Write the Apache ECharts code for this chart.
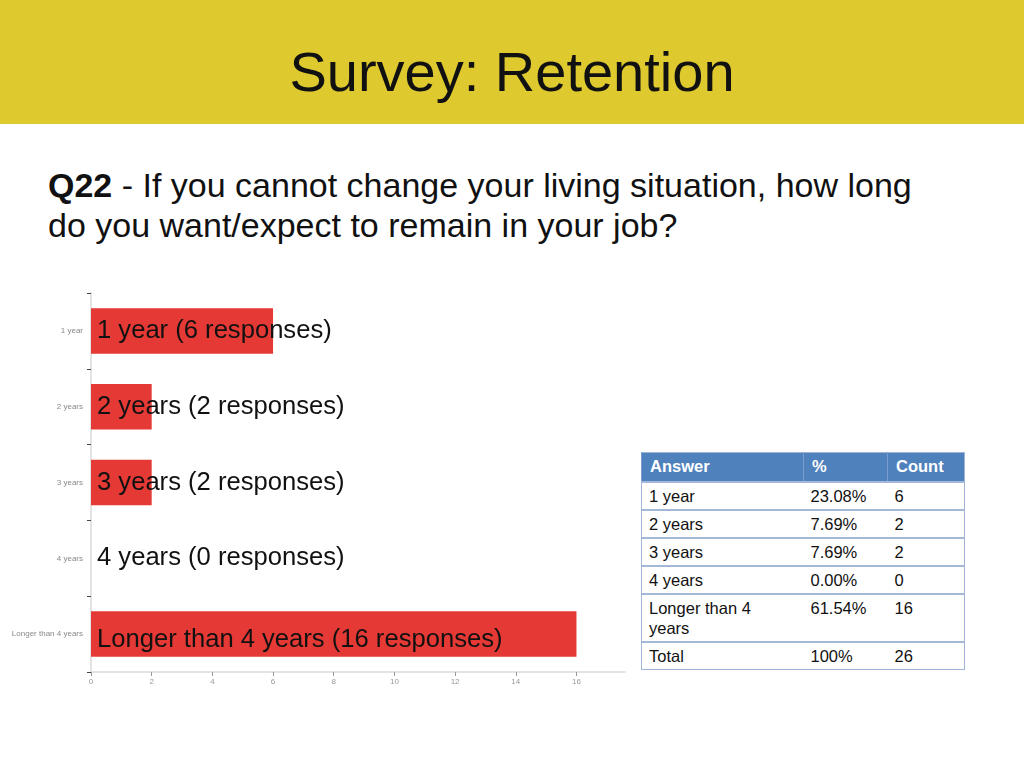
<!DOCTYPE html>
<html>
<head>
<meta charset="utf-8">
<script src="https://cdn.jsdelivr.net/npm/echarts@6/dist/echarts.min.js"></script>
<style>
  body { margin: 0; width: 1024px; height: 768px; background: #fff; font-family: "Liberation Sans", Arial, sans-serif; position: relative; overflow: hidden; }
  .header { position: absolute; left: 0; top: 0; width: 1024px; height: 124px; background: #dec92e; }
  .header h1 { margin: 0; font-weight: normal; font-size: 56px; line-height: 124px; text-align: center; color: #111; position: relative; top: 10px; }
  .question { position: absolute; left: 48px; top: 165px; width: 880px; font-size: 34px; line-height: 40px; color: #111; }
  #productsChart { position: absolute; left: 0; top: 270px; width: 640px; height: 440px; }
  table.answers { position: absolute; left: 641px; top: 452px; border-collapse: collapse; font-size: 16.5px; color: #111; border: 1px solid #9fb4d8; }
  table.answers th { background: #4f81bd; color: #fff; text-align: left; font-weight: bold; height: 29px; padding: 0 8px; border-left: 1px solid #7d9ecd; box-sizing: border-box; }
  table.answers td { text-align: left; vertical-align: top; padding: 3px 7px 3px 7px; line-height: 20px; border-top: 2px solid #a3b7d9; }
</style>
</head>
<body>
<div class="header"><h1>Survey: Retention</h1></div>
<div class="question"><b>Q22</b> - If you cannot change your living situation, how long do you want/expect to remain in your job?</div>
<div id="productsChart"></div>
<table class="answers" id="answerTable"></table>
<script>
// chart data
let categories = ['1 year', '2 years', '3 years', '4 years', 'Longer than 4 years'];
let counts = [6, 2, 2, 0, 16];
let xTicks = [0, 2, 4, 6, 8, 10, 12, 14, 16];

// table data
let tableHeader = ['Answer', '%', 'Count'];
let tableAnswers = ['1 year', '2 years', '3 years', '4 years', 'Longer than 4 years', 'Total'];
let tablePercents = ['23.08%', '7.69%', '7.69%', '0.00%', '61.54%', '100%'];
let tableCounts = ['6', '2', '2', '0', '16', '26'];

// build the table
let table = document.getElementById('answerTable');
let head = '<tr>' + tableHeader.map((h, i) => '<th style="width:' + [162, 84, 77][i] + 'px">' + h + '</th>').join('') + '</tr>';
let rows = '';
tableAnswers.forEach((a, i) => {
    let label = a === 'Longer than 4 years' ? 'Longer than 4<br>years' : a;
    rows += '<tr><td>' + label + '</td><td>' + tablePercents[i] + '</td><td>' + tableCounts[i] + '</td></tr>';
});
table.innerHTML = head + rows;

let myChart = echarts.init(document.getElementById('productsChart'));

myChart.setOption({
    animation: false,
    grid: { left: 91, top: 23, width: 534, height: 379 },
    xAxis: {
        type: 'value',
        min: 0,
        max: 17.6,
        interval: 2,
        splitLine: { show: false },
        axisLine: { show: true, lineStyle: { color: '#e3e3e3', width: 2 } },
        axisTick: { show: true, length: 4, lineStyle: { color: '#999' } },
        axisLabel: {
            color: '#999', fontSize: 8, margin: 6,
            showMaxLabel: false,
            fontFamily: 'Liberation Sans'
        }
    },
    yAxis: {
        type: 'category',
        inverse: true,
        data: categories,
        axisLine: { show: true, lineStyle: { color: '#e3e3e3', width: 2 } },
        axisTick: { show: true, length: 4, lineStyle: { color: '#444' } },
        axisLabel: { color: '#888', fontSize: 8, margin: 8, fontFamily: 'Liberation Sans' }
    },
    series: [
        {
            name: 'Responses',
            type: 'bar',
            // last label sits a little lower in the original
            data: counts.map((v, i) => i === counts.length - 1 ? { value: v, label: { offset: [0, 6] } } : v),
            barWidth: '60%',
            itemStyle: { color: '#e53935' },
            label: {
                show: true,
                position: 'insideLeft',
                distance: 6,
                color: '#111',
                fontSize: 25.6,
                fontFamily: 'Liberation Sans',
                formatter: p => p.name + ' (' + p.value + ' responses)'
            }
        }
    ]
});
</script>
</body>
</html>
